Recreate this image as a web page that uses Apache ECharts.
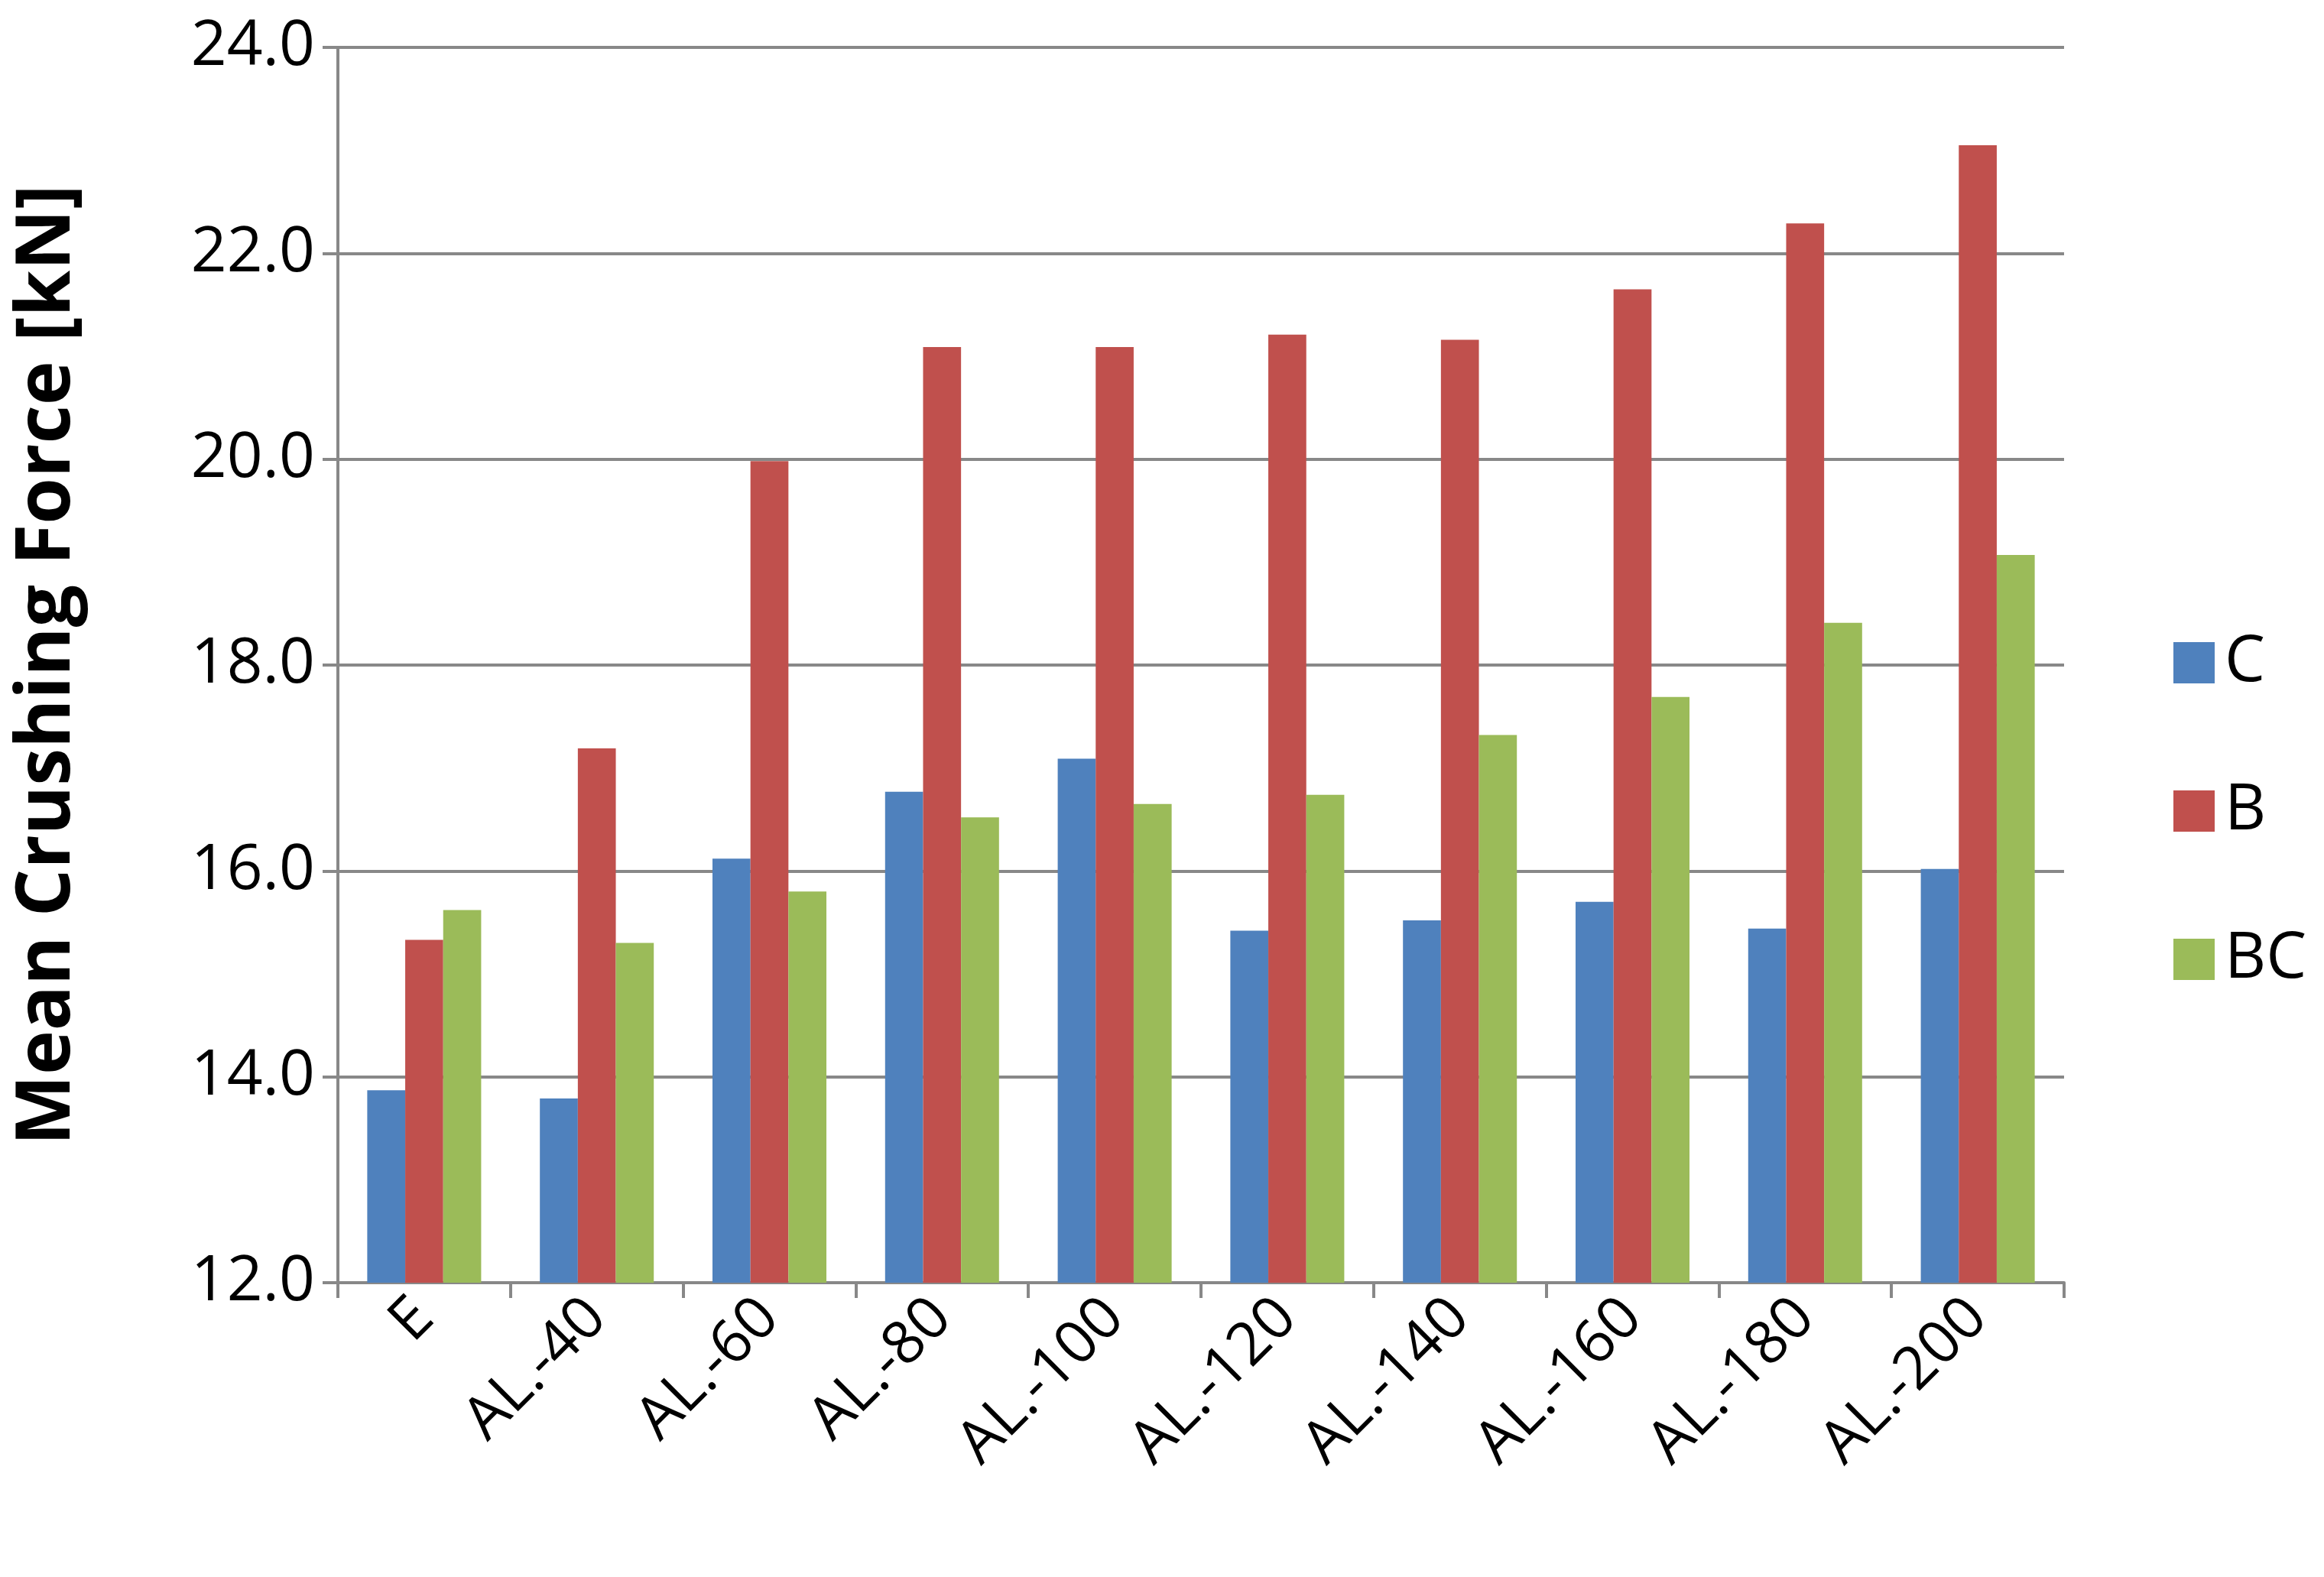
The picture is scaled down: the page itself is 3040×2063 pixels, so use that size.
<!DOCTYPE html>
<html lang="en">
<head>
<meta charset="UTF-8">
<title>Mean Crushing Force</title>
<script src="https://cdn.jsdelivr.net/npm/echarts@6/dist/echarts.min.js"></script>
<style>html,body{margin:0;padding:0;background:#fff}</style>
</head>
<body>
<div id="main" style="width:3040px;height:2063px"></div>
<script>
var categories = ['E', 'AL.-40', 'AL.-60', 'AL.-80', 'AL.-100', 'AL.-120', 'AL.-140', 'AL.-160', 'AL.-180', 'AL.-200'];
var seriesC = [13.87, 13.79, 16.12, 16.77, 17.09, 15.42, 15.52, 15.70, 15.44, 16.02];
var seriesB = [15.33, 17.19, 19.98, 21.09, 21.09, 21.21, 21.16, 21.65, 22.29, 23.05];
var seriesBC = [15.62, 15.30, 15.80, 16.52, 16.65, 16.74, 17.32, 17.69, 18.41, 19.07];

var chart = echarts.init(document.getElementById('main'));
var font = 'Open Sans, Liberation Sans, sans-serif';
function bar(name, data, color) {
    return { name: name, type: 'bar', data: data, barGap: '0%', barCategoryGap: '34%',
        itemStyle: { color: color } };
}
chart.setOption({
    animation: false,
    backgroundColor: '#fff',
    textStyle: { fontFamily: font },
    grid: { left: 442, right: 340, top: 62, bottom: 385 },
    legend: {
        orient: 'vertical', left: 2838, top: 820, itemGap: 110,
        itemWidth: 54, itemHeight: 54, icon: 'rect',
        textStyle: { fontSize: 84, color: '#000', fontFamily: font, padding: [0, 0, 0, 8] },
        data: ['C', 'B', 'BC']
    },
    xAxis: {
        type: 'category', data: categories,
        axisLine: { lineStyle: { color: '#888', width: 4 } },
        axisTick: { show: true, alignWithLabel: false, length: 20, lineStyle: { color: '#888', width: 4 } },
        axisLabel: { rotate: 45, fontSize: 78, color: '#000', margin: 34, fontFamily: font }
    },
    yAxis: {
        type: 'value', min: 12, max: 24, interval: 2,
        name: 'Mean Crushing Force [kN]', nameLocation: 'middle', nameGap: 330,
        nameTextStyle: { fontSize: 98, fontWeight: 'bold', color: '#000', fontFamily: font },
        axisLine: { show: true, lineStyle: { color: '#888', width: 4 } },
        axisTick: { show: true, length: 20, lineStyle: { color: '#888', width: 4 } },
        axisLabel: { fontSize: 82, color: '#000', margin: 30, fontFamily: font,
            formatter: function (v) { return v.toFixed(1); } },
        splitLine: { lineStyle: { color: '#888', width: 4 } }
    },
    series: [
        bar('C', seriesC, '#4F81BD'),
        bar('B', seriesB, '#C0504D'),
        bar('BC', seriesBC, '#9BBB59')
    ]
});
</script>
</body>
</html>
